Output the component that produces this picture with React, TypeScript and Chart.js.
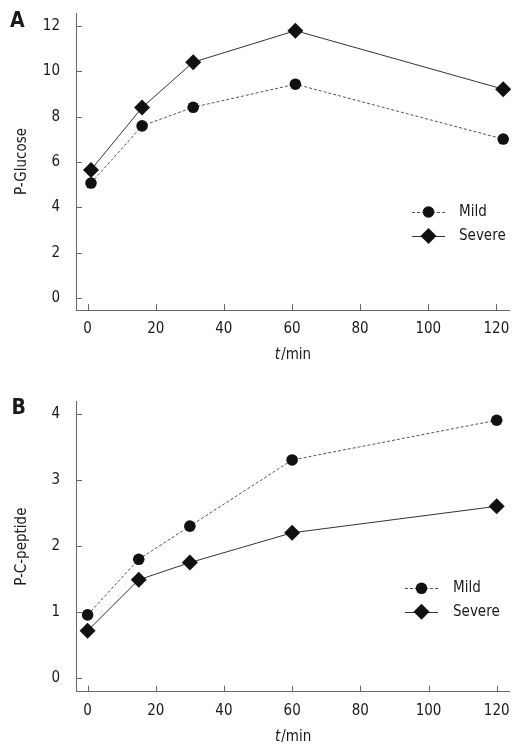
import React, { useEffect, useRef } from "react";
import { Chart, registerables } from "chart.js";

Chart.register(...registerables);

const FONT = "'DejaVu Sans Condensed', 'Noto Sans', sans-serif";
const TEXT = "#1a1a1a";
const AXIS = "#666666";

// ---- data ----
const seriesLabels = ["Mild", "Severe"];
const timesA = [1, 16, 31, 61, 122];
const glucoseMild = [5.07, 7.59, 8.41, 9.43, 7.01];
const glucoseSevere = [5.65, 8.4, 10.4, 11.79, 9.21];
const timesB = [0, 15, 30, 60, 120];
const cpepMild = [0.96, 1.8, 2.3, 3.3, 3.9];
const cpepSevere = [0.72, 1.49, 1.75, 2.2, 2.6];
const xTicks = [0, 20, 40, 60, 80, 100, 120];
const yTicksA = [0, 2, 4, 6, 8, 10, 12];
const yTicksB = [0, 1, 2, 3, 4];

type Panel = {
  letter: string;
  yTitle: string;
  times: number[];
  mild: number[];
  severe: number[];
  yTicks: number[];
  yMin: number;
  yMax: number;
  height: number;
  top: number;
  padTop: number;
  padRight: number;
  chartBottom: number;
  letterX: number;
  letterY: number;
  legend: { x0: number; x1: number; tx: number; y1: number; y2: number };
};

const panels: Panel[] = [
  {
    letter: "A",
    yTitle: "P-Glucose",
    times: timesA,
    mild: glucoseMild,
    severe: glucoseSevere,
    yTicks: yTicksA,
    yMin: -0.53,
    yMax: 12.57,
    height: 370,
    top: 0,
    padTop: 13,
    padRight: 22,
    chartBottom: 310,
    letterX: 10,
    letterY: 22,
    legend: { x0: 412, x1: 445, tx: 459, y1: 212, y2: 236 },
  },
  {
    letter: "B",
    yTitle: "P-C-peptide",
    times: timesB,
    mild: cpepMild,
    severe: cpepSevere,
    yTicks: yTicksB,
    yMin: -0.2,
    yMax: 4.18,
    height: 381,
    top: 370,
    padTop: 31.7,
    padRight: 21.7,
    chartBottom: 321.7,
    letterX: 11.5,
    letterY: 38.7,
    legend: { x0: 405, x1: 438, tx: 453, y1: 218.3, y2: 241.7 },
  },
];

function drawMarker(ctx: CanvasRenderingContext2D, style: string, x: number, y: number, r: number) {
  ctx.beginPath();
  if (style === "circle") {
    ctx.arc(x, y, r, 0, Math.PI * 2);
  } else {
    ctx.moveTo(x, y - r);
    ctx.lineTo(x + r, y);
    ctx.lineTo(x, y + r);
    ctx.lineTo(x - r, y);
    ctx.closePath();
  }
  ctx.fill();
}

const decorPlugin = {
  id: "decor",
  afterDraw(chart: any, _args: any, opts: any) {
    const ctx: CanvasRenderingContext2D = chart.ctx;
    const { left, right, bottom } = chart.chartArea;
    const xs = chart.scales.x;
    const ys = chart.scales.y;
    ctx.save();
    // inward tick marks
    ctx.strokeStyle = AXIS;
    ctx.lineWidth = 1;
    xs.ticks.forEach((t: any) => {
      const px = Math.round(xs.getPixelForValue(t.value)) + 0.5;
      ctx.beginPath();
      ctx.moveTo(px, bottom);
      ctx.lineTo(px, bottom - 6);
      ctx.stroke();
    });
    ys.ticks.forEach((t: any) => {
      const py = Math.round(ys.getPixelForValue(t.value)) + 0.5;
      ctx.beginPath();
      ctx.moveTo(left, py);
      ctx.lineTo(left + 6, py);
      ctx.stroke();
    });
    // x axis title: italic t + /min
    ctx.fillStyle = TEXT;
    ctx.textBaseline = "middle";
    ctx.textAlign = "left";
    const italic = `italic 15px ${FONT}`;
    const normal = `15px ${FONT}`;
    ctx.font = italic;
    const w1 = ctx.measureText("t").width;
    ctx.font = normal;
    const w2 = ctx.measureText("/min").width;
    const x0 = (left + right) / 2 - (w1 + w2) / 2;
    const ty = bottom + 45;
    ctx.font = italic;
    ctx.fillText("t", x0, ty);
    ctx.font = normal;
    ctx.fillText("/min", x0 + w1 + 1, ty);
    // panel letter
    ctx.font = `bold 21px ${FONT}`;
    ctx.fillText(opts.letter, opts.letterX, opts.letterY);
    // legend
    const lg = opts.legend;
    chart.data.datasets.forEach((ds: any, i: number) => {
      const y = i === 0 ? lg.y1 : lg.y2;
      ctx.strokeStyle = ds.borderColor;
      ctx.lineWidth = ds.borderWidth;
      ctx.setLineDash(ds.borderDash || []);
      ctx.beginPath();
      ctx.moveTo(lg.x0, Math.round(y) + 0.5);
      ctx.lineTo(lg.x1, Math.round(y) + 0.5);
      ctx.stroke();
      ctx.setLineDash([]);
      ctx.fillStyle = ds.pointBackgroundColor;
      drawMarker(ctx, ds.pointStyle, (lg.x0 + lg.x1) / 2, y, ds.pointRadius);
      ctx.fillStyle = TEXT;
      ctx.font = normal;
      ctx.textBaseline = "middle";
      ctx.fillText(ds.label, lg.tx, y);
    });
    ctx.restore();
  },
};

function PanelChart({ p }: { p: Panel }) {
  const ref = useRef<HTMLCanvasElement | null>(null);
  useEffect(() => {
    if (!ref.current) return;
    const chart = new Chart(ref.current, {
      type: "line",
      data: {
        datasets: [
          {
            label: seriesLabels[0],
            data: p.times.map((t, i) => ({ x: t, y: p.mild[i] })),
            borderColor: "#555555",
            borderWidth: 1,
            borderDash: [3, 2],
            pointStyle: "circle",
            pointRadius: 5.8,
            pointBackgroundColor: "#111111",
            pointBorderColor: "#111111",
            pointBorderWidth: 0,
          },
          {
            label: seriesLabels[1],
            data: p.times.map((t, i) => ({ x: t, y: p.severe[i] })),
            borderColor: "#333333",
            borderWidth: 1,
            pointStyle: "rectRot",
            pointRadius: 8,
            pointBackgroundColor: "#111111",
            pointBorderColor: "#111111",
            pointBorderWidth: 0,
          },
        ],
      } as any,
      options: {
        animation: false,
        responsive: false,
        devicePixelRatio: 1,
        clip: false as any,
        layout: { padding: { left: 0, top: p.padTop, right: p.padRight, bottom: 0 } },
        plugins: {
          legend: { display: false },
          tooltip: { enabled: false },
          decor: {
            letter: p.letter,
            letterX: p.letterX,
            letterY: p.letterY,
            legend: p.legend,
          },
        } as any,
        scales: {
          x: {
            type: "linear",
            min: -3.4,
            max: 123.7,
            afterBuildTicks: (s: any) => {
              s.ticks = xTicks.map((v) => ({ value: v }));
            },
            afterFit: (s: any) => {
              s.height = p.height - p.chartBottom;
              s.paddingLeft = 0;
              s.paddingRight = 0;
            },
            grid: { display: true, drawOnChartArea: false, drawTicks: false },
            border: { display: true, color: AXIS, width: 1 },
            ticks: {
              color: TEXT,
              padding: 10,
              maxRotation: 0,
              autoSkip: false,
              font: { family: FONT, size: 15 },
            },
          },
          y: {
            type: "linear",
            min: p.yMin,
            max: p.yMax,
            afterBuildTicks: (s: any) => {
              s.ticks = p.yTicks.map((v) => ({ value: v }));
            },
            afterFit: (s: any) => {
              s.width = 76;
              s.paddingTop = 0;
              s.paddingBottom = 0;
            },
            grid: { display: true, drawOnChartArea: false, drawTicks: false },
            border: { display: true, color: AXIS, width: 1 },
            ticks: {
              color: TEXT,
              padding: 16,
              autoSkip: false,
              font: { family: FONT, size: 15 },
            },
            title: {
              display: true,
              text: p.yTitle,
              color: TEXT,
              font: { family: FONT, size: 15 },
              padding: { top: 13, bottom: 0 },
            },
          },
        },
      } as any,
      plugins: [decorPlugin as any],
    });
    return () => chart.destroy();
  }, [p]);
  return (
    <canvas
      ref={ref}
      width={531}
      height={p.height}
      style={{ position: "absolute", left: 0, top: p.top, width: 531, height: p.height }}
    />
  );
}

export default function App() {
  return (
    <div style={{ position: "absolute", left: 0, top: 0, width: 531, height: 751, background: "#ffffff" }}>
      {panels.map((p) => (
        <PanelChart key={p.letter} p={p} />
      ))}
    </div>
  );
}
